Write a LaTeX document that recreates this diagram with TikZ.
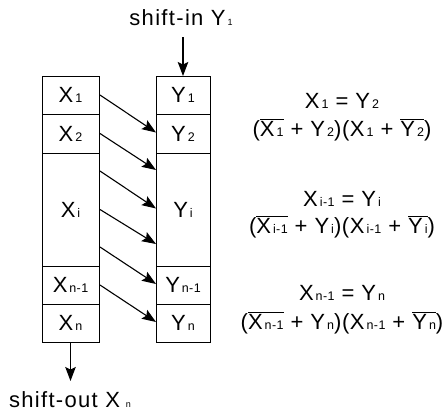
\documentclass[tikz,border=0pt]{standalone}
\usepackage{fontspec}
\setmainfont[LetterSpace=3]{Liberation Sans}
\usetikzlibrary{arrows.meta}
\newcommand\sbs[1]{\kern2pt{\fontsize{12.5}{12.5}\selectfont #1}}
\newcommand\tsb[1]{{\fontsize{9}{9}\selectfont #1}}
\newcommand\ovl[1]{$\overline{\hbox{#1}}$}
\newcommand\gp{\kern7pt}
\begin{document}
\begin{tikzpicture}[x=1pt,y=-1pt,
  font=\fontsize{22}{22}\selectfont,
  cell/.style={draw, line width=1pt, inner sep=0pt, outer sep=0pt},
  lcell/.style={cell, minimum width=57pt},
  rcell/.style={cell, minimum width=54pt},
  arr/.style={-{Stealth[length=14pt,width=10.5pt,inset=2.5pt]}, line width=1.1pt},
  eq/.style={anchor=base, inner sep=0pt},
  lbl/.style={font=\fontsize{22}{22}\selectfont\addfontfeature{LetterSpace=6}}]
\useasboundingbox (0,0) rectangle (446,413);
% left column
\node[lcell, minimum height=38pt] (x1) at (70.5,95) {X\sbs{1}};
\node[lcell, minimum height=39pt] (x2) at (70.5,133.5) {X\sbs{2}};
\node[lcell, minimum height=113pt] (xi) at (70.5,209.5) {X\sbs{i}};
\node[lcell, minimum height=38pt] (xn1) at (70.5,285) {X\sbs{n-1}};
\node[lcell, minimum height=38pt] (xn) at (70.5,323) {X\sbs{n}};
% right column
\node[rcell, minimum height=38pt] (y1) at (183,95) {Y\sbs{1}};
\node[rcell, minimum height=39pt] (y2) at (183,133.5) {Y\sbs{2}};
\node[rcell, minimum height=113pt] (yi) at (183,209.5) {Y\sbs{i}};
\node[rcell, minimum height=38pt] (yn1) at (183,285) {Y\sbs{n-1}};
\node[rcell, minimum height=38pt] (yn) at (183,323) {Y\sbs{n}};
% diagonal transfers
\draw[arr] ([xshift=1pt]x1.east) -- ([yshift=1pt]y2.west);
\draw[arr] ([xshift=1pt]x2.east) -- ([yshift=-17pt]yi.north west);
\draw[arr] ([xshift=1pt,yshift=-18pt]xi.north east) -- ([yshift=1pt]yi.west);
\draw[arr] ([xshift=1pt]xi.east) -- ([yshift=22pt]yi.south west);
\draw[arr] ([xshift=1pt,yshift=19pt]xi.south east) -- ([yshift=1pt]yn1.west);
\draw[arr] ([xshift=1pt]xn1.east) -- ([yshift=1pt]yn.west);
% shift in / out
\node[lbl] (sin) at (181,18) {shift-in Y\kern2pt\tsb{1}};
\coordinate (intop) at (183,37);
\draw[arr] (intop) -- (y1.north);
\coordinate (outend) at (70.5,381);
\draw[arr] (xn.south) -- (outend);
\node[lbl] (sout) at (70,400) {shift-out X\kern6pt\tsb{n}};
% equations
\node[eq] (ea1) at (342,108) {X\sbs{1}\gp=\gp Y\sbs{2}};
\node[eq] (ea2) at (342,136) {(\ovl{X\sbs{1}}\gp+\gp Y\sbs{2})(X\sbs{1}\gp+\gp\ovl{Y\sbs{2}})};
\node[eq] (eb1) at (342,206) {X\sbs{i-1}\gp=\gp Y\sbs{i}};
\node[eq] (eb2) at (342,233) {(\ovl{X\sbs{i-1}}\gp+\gp Y\sbs{i})(X\sbs{i-1}\gp+\gp\ovl{Y\sbs{i}})};
\node[eq] (ec1) at (342,300) {X\sbs{n-1}\gp=\gp Y\sbs{n}};
\node[eq] (ec2) at (342,329) {(\ovl{X\sbs{n-1}}\gp+\gp Y\sbs{n})(X\sbs{n-1}\gp+\gp\ovl{Y\sbs{n}})};
\end{tikzpicture}
\end{document}
